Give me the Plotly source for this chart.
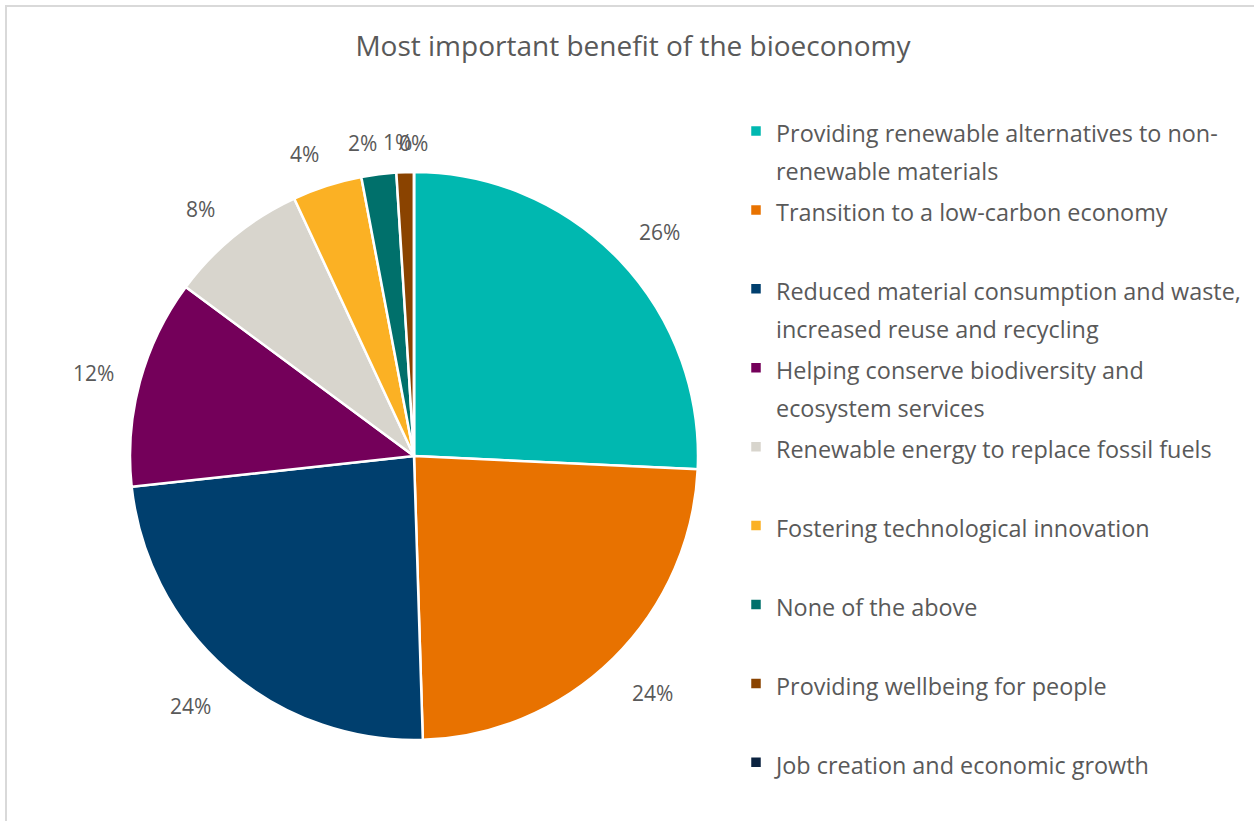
import math
import plotly.graph_objects as go

# Survey answers: most important benefit of the bioeconomy
benefits = [
    ["Providing renewable alternatives to non-", "renewable materials"],
    ["Transition to a low-carbon economy"],
    ["Reduced material consumption and waste,", "increased reuse and recycling"],
    ["Helping conserve biodiversity and", "ecosystem services"],
    ["Renewable energy to replace fossil fuels"],
    ["Fostering technological innovation"],
    ["None of the above"],
    ["Providing wellbeing for people"],
    ["Job creation and economic growth"],
]
responses = [26, 24, 24, 12, 8, 4, 2, 1, 0]
slice_colors = [
    "#00B8B0", "#E87200", "#003F6E", "#74005A", "#D8D5CD",
    "#FBB124", "#00706B", "#8A4300", "#0B2340",
]

W, H = 1254, 821
TEXT = "#595959"
FONT = "Open Sans"

# pie geometry in pixels
CX, CY, R = 414, 456, 284

total = sum(responses)
shares = [v / total for v in responses]

# legend: base font sets the entry pitch, the visible text uses its own size
LEGEND_BASE = 29.2
LEGEND_TEXT = 23.4
legend_names = []
for k, lines in enumerate(benefits):
    shown = [f'<span style="font-size:{LEGEND_TEXT}px">{ln}</span>' for ln in lines]
    if len(lines) < 2 and k < len(benefits) - 1:
        shown.append(" ")
    legend_names.append("<br>".join(shown))

fig = go.Figure(
    go.Pie(
        labels=legend_names,
        values=responses,
        sort=False,
        direction="clockwise",
        rotation=0,
        marker=dict(colors=slice_colors, line=dict(color="white", width=2.5)),
        textinfo="none",
        hoverinfo="label+percent",
        domain=dict(
            x=[(CX - R) / W, (CX + R) / W],
            y=[1 - (CY + R) / H, 1 - (CY - R) / H],
        ),
    )
)

# percentage labels just outside each slice, at its middle angle
LABEL_SIZE = 21
gap = 22
cum = 0.0
for share in shares:
    mid = (cum + share / 2) * 2 * math.pi
    cum += share
    txt = f"{share:.0%}"
    w = len(txt) * LABEL_SIZE * 0.66
    h = LABEL_SIZE
    s, c = math.sin(mid), math.cos(mid)
    d = R + gap + (w / 2) * abs(s) + (h / 2) * abs(c)
    # nudge labels sideways, away from the vertical axis
    side = 12 * abs(c) * math.tanh(20 * s)
    px = CX + d * s + side
    py = CY - d * c + 3
    fig.add_annotation(
        x=px / W, y=1 - py / H, xref="paper", yref="paper",
        text=txt, showarrow=False, xanchor="center", yanchor="middle",
        font=dict(family=FONT, size=LABEL_SIZE, color=TEXT),
    )

# chart-area border
fig.add_shape(
    type="rect", xref="paper", yref="paper",
    x0=6 / W, x1=1.02, y0=-0.02, y1=1 - 6 / H,
    line=dict(color="#D9D9D9", width=2), fillcolor="rgba(0,0,0,0)", layer="below",
)

fig.update_layout(
    width=W, height=H,
    margin=dict(l=0, r=0, t=0, b=0),
    paper_bgcolor="white", plot_bgcolor="white",
    title=dict(
        text="Most important benefit of the bioeconomy",
        x=633 / W, xanchor="center", y=1 - 46 / H, yanchor="middle",
        font=dict(family=FONT, size=28, color=TEXT),
    ),
    legend=dict(
        x=736 / W, xanchor="left", y=1 - 105.5 / H, yanchor="top",
        font=dict(family=FONT, size=LEGEND_BASE, color=TEXT),
        valign="top", bgcolor="rgba(0,0,0,0)",
    ),
    showlegend=True,
)

fig.write_html("out.html")
